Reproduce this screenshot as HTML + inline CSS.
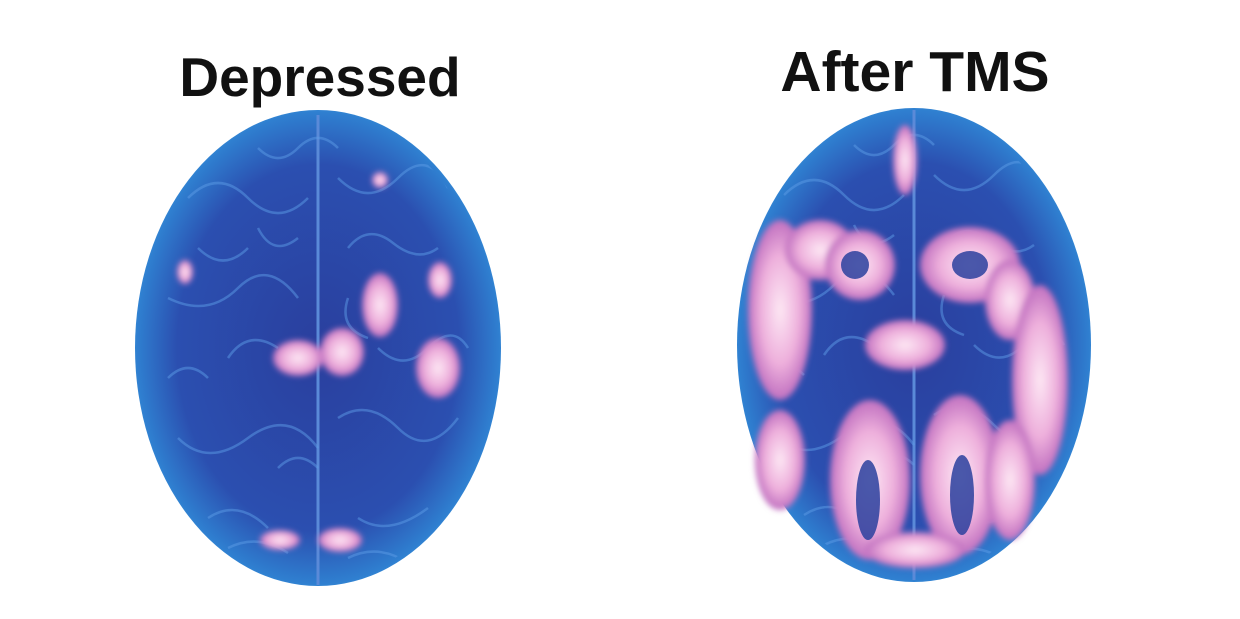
<!DOCTYPE html>
<html><head><meta charset="utf-8"><style>
html,body{margin:0;padding:0;background:#fff;}
svg{display:block;}
text{font-family:"Liberation Sans",sans-serif;font-weight:bold;fill:#111;}
</style></head><body>
<svg width="1240" height="619" viewBox="0 0 1240 619">
<defs>
<radialGradient id="bg" cx="50%" cy="50%" r="55%">
<stop offset="0%" stop-color="#2a3f9e"/>
<stop offset="70%" stop-color="#2b4fb0"/>
<stop offset="90%" stop-color="#2f7fd0"/>
<stop offset="100%" stop-color="#4ab0ea"/>
</radialGradient>
<radialGradient id="pk" cx="50%" cy="50%" r="50%">
<stop offset="0%" stop-color="#fde8f4"/>
<stop offset="60%" stop-color="#eeb0dc"/>
<stop offset="100%" stop-color="#c070c0"/>
</radialGradient>
<filter id="bl"><feGaussianBlur stdDeviation="3"/></filter>
<clipPath id="c1"><ellipse cx="318" cy="348" rx="178" ry="233"/></clipPath>
<clipPath id="c2"><ellipse cx="914" cy="345" rx="172" ry="232"/></clipPath>
<g id="gyri" fill="none" stroke="#5d9be6" stroke-width="2.5" opacity="0.5">
<path d="M-130 -150 q30 -30 60 0 t60 0"/><path d="M20 -170 q30 30 60 0 t50 10"/>
<path d="M-150 -50 q40 20 70 -10 t60 10"/><path d="M20 70 q30 -20 60 10 t60 -10"/>
<path d="M-140 90 q30 30 70 0 t70 10"/><path d="M-110 170 q30 -20 60 10"/>
<path d="M40 170 q30 20 70 -10"/><path d="M-90 10 q20 -30 50 -10"/>
<path d="M-60 -200 q20 20 40 0 t40 0"/><path d="M30 -100 q20 -25 45 -5 t45 5"/>
<path d="M-120 -100 q25 25 50 0"/><path d="M-40 120 q20 -20 40 0"/>
<path d="M60 0 q25 25 50 0 t40 0"/><path d="M-150 30 q20 -20 40 0"/>
<path d="M-60 -120 q15 30 40 10"/><path d="M30 -50 q-10 30 20 40"/>
<path d="M-90 200 q30 -15 60 5"/><path d="M30 210 q30 -15 60 5"/>
</g>
</defs>
<text x="320" y="96" font-size="55" text-anchor="middle">Depressed</text>
<text x="915" y="91" font-size="57" text-anchor="middle">After TMS</text>

<g>
<ellipse cx="318" cy="348" rx="183" ry="238" fill="url(#bg)"/>
<path d="M318 115 L318 585" stroke="#5a8ad8" stroke-width="3"/>
<g clip-path="url(#c1)"><use href="#gyri" transform="translate(318 348)"/></g>
<g fill="url(#pk)" filter="url(#bl)">
<ellipse cx="298" cy="358" rx="25" ry="18"/>
<ellipse cx="342" cy="352" rx="22" ry="24"/>
<ellipse cx="380" cy="305" rx="18" ry="32"/>
<ellipse cx="438" cy="368" rx="22" ry="30"/>
<ellipse cx="440" cy="280" rx="12" ry="18"/>
<ellipse cx="185" cy="272" rx="8" ry="12"/>
<ellipse cx="280" cy="540" rx="20" ry="10"/>
<ellipse cx="340" cy="540" rx="22" ry="12"/>
<ellipse cx="380" cy="180" rx="8" ry="8"/>
</g>
</g>

<g>
<ellipse cx="914" cy="345" rx="177" ry="237" fill="url(#bg)"/>
<path d="M914 110 L914 580" stroke="#5a8ad8" stroke-width="3"/>
<g clip-path="url(#c2)"><use href="#gyri" transform="translate(914 345)"/></g>
<g fill="url(#pk)" filter="url(#bl)">
<ellipse cx="905" cy="160" rx="12" ry="35"/>
<ellipse cx="780" cy="310" rx="32" ry="90"/>
<ellipse cx="820" cy="250" rx="35" ry="30"/>
<ellipse cx="860" cy="265" rx="35" ry="35"/>
<ellipse cx="970" cy="265" rx="50" ry="38"/>
<ellipse cx="1010" cy="300" rx="25" ry="40"/>
<ellipse cx="905" cy="345" rx="40" ry="25"/>
<ellipse cx="1040" cy="380" rx="28" ry="95"/>
<ellipse cx="870" cy="480" rx="40" ry="80"/>
<ellipse cx="960" cy="475" rx="40" ry="80"/>
<ellipse cx="1010" cy="480" rx="25" ry="60"/>
<ellipse cx="780" cy="460" rx="25" ry="50"/>
<ellipse cx="915" cy="550" rx="50" ry="18"/>
</g>
<g fill="#2a3f9e" opacity="0.85">
<ellipse cx="855" cy="265" rx="14" ry="14"/><ellipse cx="970" cy="265" rx="18" ry="14"/>
<ellipse cx="868" cy="500" rx="12" ry="40"/><ellipse cx="962" cy="495" rx="12" ry="40"/>
</g>
</g>
</svg>
</body></html>
